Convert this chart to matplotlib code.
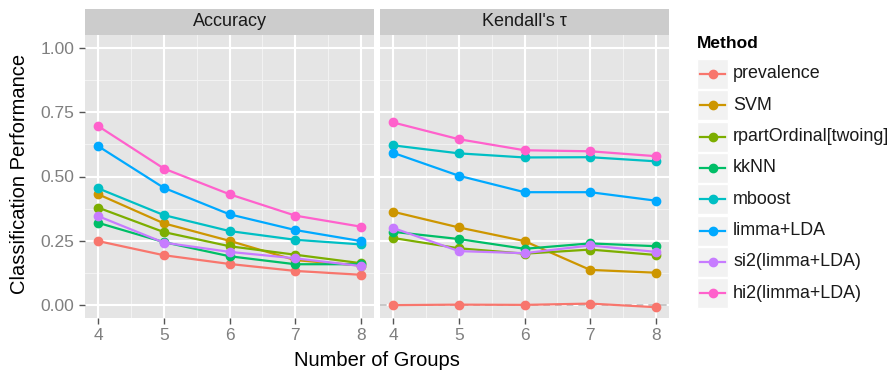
import matplotlib
matplotlib.use("Agg")
import matplotlib.pyplot as plt
from matplotlib.lines import Line2D
from matplotlib.patches import Rectangle

plt.rcParams['font.family'] = ['Liberation Sans', 'DejaVu Sans']

groups = [4, 5, 6, 7, 8]
methods = ["prevalence", "SVM", "rpartOrdinal[twoing]", "kkNN", "mboost",
           "limma+LDA", "si2(limma+LDA)", "hi2(limma+LDA)"]
colors = ["#F8766D", "#CD9600", "#7CAE00", "#00BE67", "#00BFC4",
          "#00A9FF", "#C77CFF", "#FF61CC"]

accuracy = {
    "prevalence":           [0.249, 0.194, 0.160, 0.133, 0.118],
    "SVM":                  [0.431, 0.318, 0.250, 0.175, 0.154],
    "rpartOrdinal[twoing]": [0.379, 0.284, 0.229, 0.196, 0.163],
    "kkNN":                 [0.320, 0.245, 0.190, 0.159, 0.159],
    "mboost":               [0.454, 0.350, 0.288, 0.254, 0.236],
    "limma+LDA":            [0.618, 0.456, 0.353, 0.292, 0.249],
    "si2(limma+LDA)":       [0.346, 0.243, 0.207, 0.182, 0.152],
    "hi2(limma+LDA)":       [0.696, 0.531, 0.431, 0.348, 0.305],
}
kendall = {
    "prevalence":           [0.000, 0.002, 0.001, 0.006, -0.008],
    "SVM":                  [0.363, 0.302, 0.249, 0.137, 0.126],
    "rpartOrdinal[twoing]": [0.261, 0.221, 0.200, 0.216, 0.195],
    "kkNN":                 [0.285, 0.257, 0.219, 0.240, 0.229],
    "mboost":               [0.621, 0.590, 0.574, 0.575, 0.559],
    "limma+LDA":            [0.592, 0.503, 0.439, 0.439, 0.406],
    "si2(limma+LDA)":       [0.300, 0.210, 0.202, 0.232, 0.207],
    "hi2(limma+LDA)":       [0.710, 0.645, 0.602, 0.598, 0.579],
}
panels = [("Accuracy", accuracy), ("Kendall's \u03c4", kendall)]

W, H = 891, 376
fig = plt.figure(figsize=(W / 100, H / 100), dpi=100)

def box(x0, y0, x1, y1):
    # pixel box -> figure fraction rect
    return [x0 / W, 1 - y1 / H, (x1 - x0) / W, (y1 - y0) / H]

panel_x = [(85, 374), (380, 669)]
top, bottom, strip_top = 35, 318, 9
for i, (title, data) in enumerate(panels):
    x0, x1 = panel_x[i]
    ax = fig.add_axes(box(x0, top, x1, bottom))
    ax.set_facecolor("#E5E5E5")
    for s in ax.spines.values():
        s.set_visible(False)
    ax.set_xlim(3.8, 8.2)
    ax.set_ylim(-0.05, 1.05)
    for v in [4.5, 5.5, 6.5, 7.5]:
        ax.axvline(v, color="#F2F2F2", lw=0.8, zorder=0)
    for v in [0.125, 0.375, 0.625, 0.875]:
        ax.axhline(v, color="#F2F2F2", lw=0.8, zorder=0)
    for v in groups:
        ax.axvline(v, color="white", lw=1.5, zorder=0)
    for v in [0, 0.25, 0.5, 0.75, 1.0]:
        ax.axhline(v, color="white", lw=1.5, zorder=0)
    if i == 1:
        ax.axhline(0, color="#BEBEBE", lw=1.2, ls=(0, (4, 3)), zorder=1)
    for m, c in zip(methods, colors):
        ax.plot(groups, data[m], color=c, lw=1.6, marker="o", ms=6,
                mec=c, zorder=2)
    ax.set_xticks(groups)
    ax.set_yticks([0, 0.25, 0.5, 0.75, 1.0])
    ax.tick_params(colors="#555555", labelcolor="#7F7F7F", labelsize=12.5,
                   length=4, width=1)
    if i == 0:
        ax.set_yticklabels(["0.00", "0.25", "0.50", "0.75", "1.00"])
    else:
        ax.tick_params(axis="y", left=False, labelleft=False)

    sax = fig.add_axes(box(x0, strip_top, x1, top))
    sax.set_facecolor("#CCCCCC")
    sax.set_xticks([])
    sax.set_yticks([])
    for s in sax.spines.values():
        s.set_visible(False)
    sax.text(0.5, 0.5, title, ha="center", va="center", fontsize=13,
             color="#1A1A1A", transform=sax.transAxes)

fig.text(377 / W, 1 - 360 / H, "Number of Groups", ha="center", va="center",
         fontsize=14.5)
fig.text(20 / W, 1 - 174 / H, "Classification Performance", ha="center",
         va="center", rotation=90, fontsize=14.5)

# legend
fig.text(697 / W, 1 - 44 / H, "Method", fontsize=12.5, fontweight="bold",
         ha="left", va="center")
lax = fig.add_axes([0, 0, 1, 1], zorder=-1)
lax.set_xlim(0, W)
lax.set_ylim(H, 0)
lax.axis("off")
for k, (m, c) in enumerate(zip(methods, colors)):
    yc = 74 + k * 31.3
    lax.add_patch(Rectangle((697, yc - 15), 31, 30, facecolor="#F2F2F2",
                            edgecolor="white", lw=1))
    lax.add_line(Line2D([700, 725], [yc, yc], color=c, lw=1.6))
    lax.plot([712.5], [yc], marker="o", ms=6, color=c)
    lax.text(733, yc, m, fontsize=12.9, ha="left", va="center", color="#1A1A1A")

fig.savefig("out.png", dpi=100)
